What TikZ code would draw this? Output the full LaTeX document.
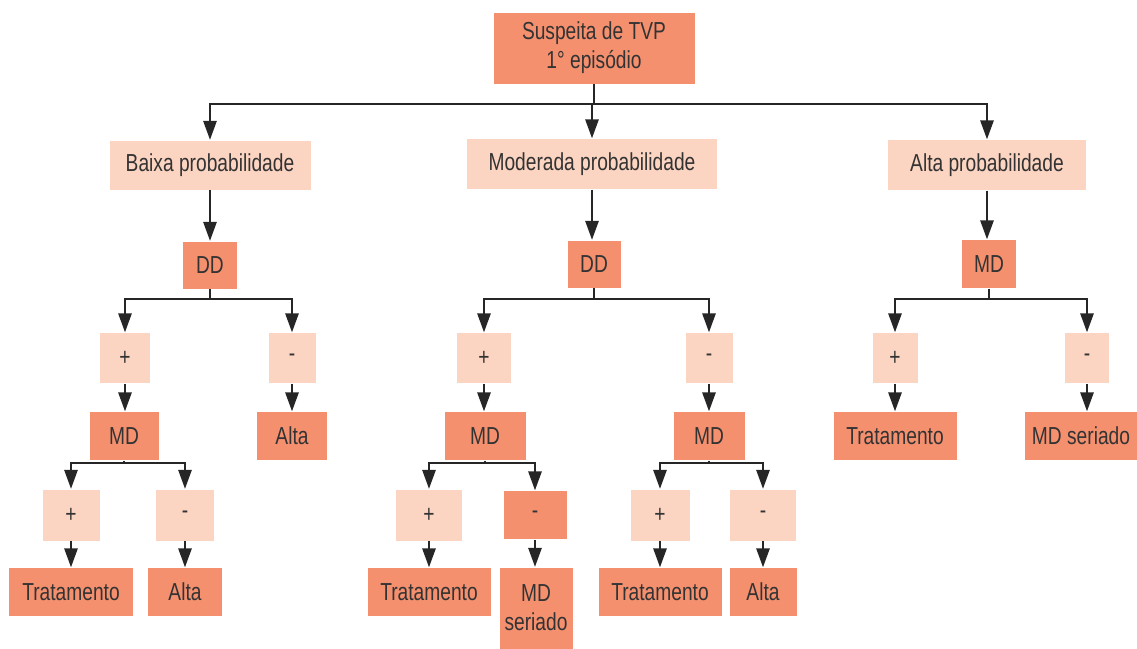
\documentclass[tikz,border=0pt]{standalone}
\usepackage{fontspec}
\setmainfont{Liberation Sans}[FakeStretch=0.78]
\usetikzlibrary{arrows.meta}
\definecolor{salmon}{HTML}{F5906F}
\definecolor{peach}{HTML}{FCD4C2}
\definecolor{ink}{HTML}{333333}
\tikzset{
    box/.style={inner sep=0pt,text=ink,font=\fontsize{14}{16.5}\selectfont,align=center},
    dark/.style={box,fill=salmon},
    light/.style={box,fill=peach},
    sz/.style 2 args={minimum width=#1*0.02cm,minimum height=#2*0.02cm}}
\begin{document}
\begin{tikzpicture}[x=0.02cm,y=-0.02cm,>={Triangle[length=0.38cm,width=0.27cm]},
    line width=0.85pt,draw=black!85]
    \useasboundingbox (0,0) rectangle (1137,649);
    \def\ya{104} \def\yb{299} \def\yc{463}
    % top and the three probabilities
    \node[dark,sz={201}{71}] (top) at (594,48) {Suspeita de TVP\\1° episódio};
    \node[light,sz={201}{49}] (baixa) at (210,165) {Baixa probabilidade};
    \node[light,sz={250}{50}] (mod) at (592,164) {Moderada probabilidade};
    \node[light,sz={198}{50}] (altap) at (987,165) {Alta probabilidade};
    \node[dark,sz={54}{47}] (ddA) at (210,265) {DD};
    \node[dark,sz={53}{47}] (ddB) at (594,264) {DD};
    \node[dark,sz={54}{48}] (mdC) at (989,264) {MD};
    % left branch
    \node[light,sz={50}{50}] (posA) at (125,358) {+};
    \node[light,sz={47}{50}] (negA) at (292,358) {-};
    \node[dark,sz={69}{48}] (mdA) at (124,436) {MD};
    \node[dark,sz={70}{48}] (altaA) at (292,436) {Alta};
    \node[light,sz={57}{51}] (posAA) at (71,515) {+};
    \node[light,sz={58}{51}] (negAA) at (185,515) {-};
    \node[dark,sz={124}{48}] (tratAA) at (71,592) {Tratamento};
    \node[dark,sz={74}{48}] (altaAA) at (185,592) {Alta};
    % middle branch
    \node[light,sz={54}{50}] (posB) at (484,358) {+};
    \node[light,sz={47}{50}] (negB) at (709,358) {-};
    \node[dark,sz={81}{48}] (mdB) at (485,436) {MD};
    \node[dark,sz={71}{48}] (mdBB) at (709,436) {MD};
    \node[light,sz={66}{51}] (posBA) at (429,515) {+};
    \node[dark,sz={63}{48}] (negBA) at (535,515) {-};
    \node[dark,sz={123}{48}] (tratBA) at (429,592) {Tratamento};
    \node[dark,sz={73}{81}] (serBA) at (536,608) {MD\\seriado};
    \node[light,sz={59}{51}] (posBB) at (660,515) {+};
    \node[light,sz={66}{51}] (negBB) at (763,515) {-};
    \node[dark,sz={123}{48}] (tratBB) at (660,592) {Tratamento};
    \node[dark,sz={67}{48}] (altaBB) at (763,592) {Alta};
    % right branch
    \node[light,sz={45}{50}] (posC) at (895,358) {+};
    \node[light,sz={44}{50}] (negC) at (1087,358) {-};
    \node[dark,sz={123}{48}] (tratC) at (895,436) {Tratamento};
    \node[dark,sz={112}{48}] (serC) at (1081,436) {MD seriado};
    % forks
    \foreach \a/\b/\y in {top/baixa/\ya,top/mod/\ya,top/altap/\ya,
        ddA/posA/\yb,ddA/negA/\yb,ddB/posB/\yb,ddB/negB/\yb,mdC/posC/\yb,mdC/negC/\yb,
        mdA/posAA/\yc,mdA/negAA/\yc,mdB/posBA/\yc,mdB/negBA/\yc,mdBB/posBB/\yc,mdBB/negBB/\yc}
        \draw[->] (\a.south) -- (\a.south |- 0,\y) -| (\b.north);
    % straight arrows
    \foreach \a/\b in {baixa/ddA,mod/ddB,altap/mdC,posA/mdA,negA/altaA,posB/mdB,negB/mdBB,
        posC/tratC,negC/serC,posAA/tratAA,negAA/altaAA,posBA/tratBA,negBA/serBA,
        posBB/tratBB,negBB/altaBB}
        \draw[->] (\a.south) -- (\a.south |- \b.north);
\end{tikzpicture}
\end{document}
